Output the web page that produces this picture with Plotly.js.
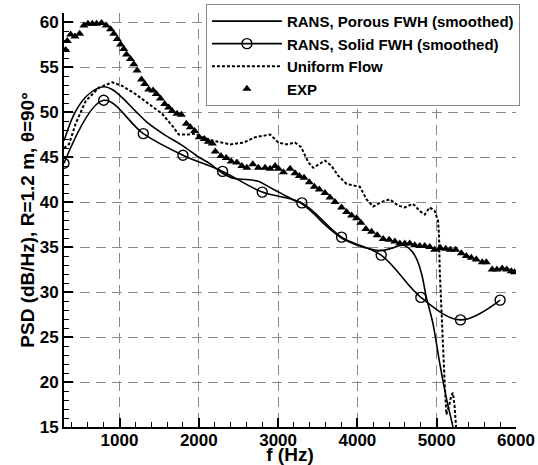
<!DOCTYPE html>
<html>
<head>
<meta charset="utf-8">
<script src="https://cdn.plot.ly/plotly-3.0.1.min.js"></script>
<style>html,body{margin:0;padding:0;background:#fff;}#chart{width:538px;height:465px;}</style>
</head>
<body>
<div id="chart"></div>
<script>
// Porous FWH (smoothed)
const porousF = [300, 447, 614, 803, 908, 1034, 1201, 1369, 1579, 1789, 1997, 2150, 2300, 2450, 2600, 2750, 2900, 3050, 3200, 3300, 3450, 3600, 3800, 4000, 4150, 4300, 4450, 4580, 4680, 4745, 4810, 4870, 4950, 5040, 5120, 5205, 5240];
const porousPSD = [46.8, 50.1, 52.0, 52.8, 52.5, 51.6, 50.1, 48.7, 47.4, 46.3, 45.0, 44.2, 43.2, 42.6, 42.5, 42.3, 41.6, 40.9, 40.2, 39.8, 38.7, 37.4, 36.0, 35.2, 34.8, 34.6, 34.9, 35.2, 34.6, 33.7, 32.0, 29.4, 26.6, 22.0, 18.3, 15.0, 13.5];

// Solid FWH (smoothed), circle symbols
const solidF = [300, 800, 1300, 1800, 2300, 2800, 3300, 3800, 4300, 4800, 5300, 5800];
const solidPSD = [44.3, 51.3, 47.6, 45.2, 43.4, 41.1, 39.9, 36.1, 34.1, 29.4, 26.9, 29.1];

// Uniform Flow
const uniformF = [300, 362, 447, 572, 740, 908, 1034, 1201, 1369, 1537, 1663, 1746, 1872, 1956, 2040, 2186, 2396, 2564, 2711, 2899, 3004, 3107, 3214, 3290, 3381, 3444, 3591, 3675, 3759, 3864, 3969, 4031, 4115, 4199, 4303, 4409, 4513, 4597, 4702, 4786, 4849, 4912, 4975, 5017, 5030, 5038, 5060, 5080, 5101, 5122, 5160, 5184, 5205, 5226, 5247, 5260];
const uniformPSD = [46.0, 46.4, 48.7, 51.2, 52.7, 53.3, 52.9, 52.0, 50.9, 49.8, 48.5, 47.5, 47.5, 47.6, 47.2, 46.8, 46.4, 46.6, 47.2, 47.5, 46.6, 46.4, 46.6, 46.1, 44.4, 43.8, 44.6, 44.0, 42.9, 42.0, 41.8, 41.7, 40.3, 39.5, 40.0, 40.3, 39.6, 39.4, 39.8, 39.0, 38.6, 39.4, 39.0, 37.9, 36.1, 32.4, 28.0, 23.5, 19.8, 16.4, 17.5, 18.5, 18.8, 17.3, 15.0, 13.0];

// EXP
const expF = [321, 342, 384, 438, 497, 551, 602, 657, 711, 774, 833, 887, 928, 971, 1013, 1054, 1088, 1138, 1180, 1222, 1277, 1318, 1369, 1424, 1465, 1516, 1570, 1620, 1663, 1725, 1780, 1843, 1893, 1947, 2006, 2069, 2120, 2170, 2208, 2279, 2346, 2409, 2480, 2543, 2606, 2681, 2752, 2836, 2899, 2962, 3004, 3067, 3151, 3214, 3268, 3327, 3394, 3457, 3520, 3591, 3654, 3717, 3801, 3864, 3927, 3990, 4044, 4107, 4179, 4250, 4325, 4400, 4472, 4535, 4597, 4660, 4723, 4786, 4849, 4912, 4975, 5046, 5113, 5172, 5239, 5311, 5373, 5436, 5499, 5574, 5625, 5700, 5759, 5826, 5884, 5940, 5981];
const expPSD = [56.9, 57.9, 58.6, 58.4, 58.7, 59.6, 59.8, 59.8, 59.8, 59.9, 59.6, 59.2, 58.7, 58.1, 57.5, 57.0, 56.4, 55.9, 55.3, 54.6, 53.6, 53.1, 52.5, 52.4, 52.0, 51.5, 50.9, 50.5, 50.1, 49.8, 49.7, 48.7, 48.3, 47.9, 47.2, 47.0, 46.7, 46.5, 45.6, 45.1, 44.9, 44.5, 44.4, 44.0, 43.8, 44.2, 43.8, 43.8, 43.7, 44.0, 43.7, 43.3, 43.7, 43.2, 42.9, 42.7, 42.2, 41.7, 41.4, 41.0, 40.5, 40.0, 39.4, 38.9, 38.5, 38.2, 37.7, 37.0, 36.7, 36.3, 35.9, 35.8, 35.6, 35.4, 35.4, 35.4, 35.2, 35.1, 35.1, 35.0, 34.7, 34.9, 34.8, 34.7, 34.7, 34.3, 34.0, 33.8, 33.6, 33.3, 33.3, 32.5, 32.5, 32.6, 32.5, 32.3, 32.2];

const seriesNames = ["RANS, Porous FWH (smoothed)", "RANS, Solid FWH (smoothed)", "Uniform Flow", "EXP"];
const xTitle = "f (Hz)";
const yTitle = "PSD (dB/Hz), R=1.2 m, \u03B8=90\u00B0";

const FONT = "Liberation Sans, Arial, Helvetica, sans-serif";

const traces = [
  {x: porousF, y: porousPSD, name: seriesNames[0], mode: "lines", line: {color: "#000", width: 1.6, shape: "spline"}},
  {x: solidF, y: solidPSD, name: seriesNames[1], mode: "lines+markers", line: {color: "#000", width: 1.6, shape: "spline"},
   marker: {symbol: "circle-open", size: 10, color: "#000", line: {width: 1.4, color: "#000"}}},
  {x: uniformF, y: uniformPSD, name: seriesNames[2], mode: "lines", line: {color: "#000", width: 2, dash: "3px,2px"}},
  {x: expF, y: expPSD, name: seriesNames[3], mode: "markers", marker: {symbol: "triangle-up", size: 8, color: "#000"}}
];

const axisCommon = {
  showline: true, linecolor: "#000", linewidth: 2, mirror: false,
  ticks: "inside", ticklen: 9, tickwidth: 2, tickcolor: "#000",
  showgrid: true, gridcolor: "#8a8a8a", gridwidth: 1, griddash: "10px,6px",
  zeroline: false, automargin: false,
  tickfont: {family: FONT, size: 17, color: "#000", weight: "bold"}
};

const layout = {
  width: 538, height: 465,
  margin: {l: 64, r: 22, t: 13, b: 38, autoexpand: false},
  paper_bgcolor: "#fff", plot_bgcolor: "#fff",
  font: {family: FONT, color: "#000", weight: "bold"},
  xaxis: Object.assign({}, axisCommon, {
    range: [300, 6000], tick0: 0, dtick: 1000, ticklabelstandoff: -3,
    minor: {dtick: 200, ticks: "inside", ticklen: 5, tickwidth: 1, tickcolor: "#000", showgrid: false},
    title: {text: xTitle, font: {family: FONT, size: 19, color: "#000", weight: "bold"}, standoff: 12}
  }),
  yaxis: Object.assign({}, axisCommon, {
    range: [15, 61], tick0: 0, dtick: 5,
    minor: {dtick: 1, ticks: "inside", ticklen: 5, tickwidth: 1, tickcolor: "#000", showgrid: false},
    title: {text: yTitle, font: {family: FONT, size: 19, color: "#000", weight: "bold"}, standoff: 0}
  }),
  showlegend: true,
  legend: {
    x: 0.314, y: 1.022, xanchor: "left", yanchor: "top",
    bgcolor: "#fff", bordercolor: "#8a8a8a", borderwidth: 1,
    font: {family: FONT, size: 15, color: "#000", weight: "bold"},
    itemwidth: 70, tracegroupgap: 0
  }
};

Plotly.newPlot("chart", traces, layout, {displayModeBar: false, staticPlot: true});
</script>
</body>
</html>
